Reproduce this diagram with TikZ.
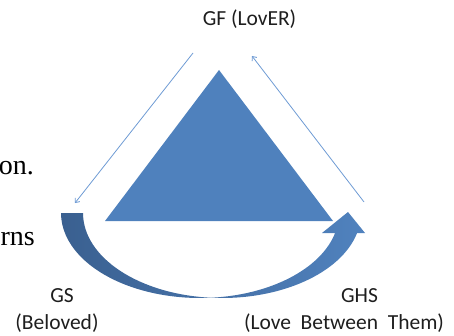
\documentclass[tikz,border=0pt]{standalone}
\usepackage{fontspec}
\setmainfont{Carlito}
\newfontfamily\bodyserif{Liberation Serif}
\usetikzlibrary{arrows.meta}
\definecolor{triblue}{RGB}{79,129,189}
\definecolor{arrowdark}{RGB}{58,96,144}
\definecolor{arrowlight}{RGB}{80,130,190}
\definecolor{thinblue}{RGB}{110,155,212}
\definecolor{txt}{RGB}{30,30,30}
\tikzset{
  lbl/.style={text=txt, font=\fontsize{21.5}{25}\selectfont, inner sep=0pt, anchor=base},
  bodytxt/.style={text=black, font=\bodyserif\fontsize{28}{32}\selectfont, inner sep=0pt, anchor=base east},
  thinarrow/.style={draw=thinblue, line width=0.8pt, -{Straight Barb[length=3.5pt,width=6pt]}},
}
\begin{document}
\begin{tikzpicture}[x=1pt,y=1pt]
\useasboundingbox (0,0) rectangle (454,335);
% cut-off body text at the left
\node[bodytxt] (t1) at (34,161) {on.};
\node[bodytxt] (t2) at (35,90) {rns};
% central triangle
\fill[triblue] (219,265) -- (105,114) -- (333,114) -- cycle;
% curved up arrow
\path[shade, left color=arrowdark, right color=arrowlight]
  (61,122) arc[start angle=180, end angle=274.54, x radius=139, y radius=85]
  arc[start angle=265.46, end angle=346.39, x radius=139, y radius=85]
  -- (365,102) -- (348,123) -- (322,102) -- (335.1,102)
  arc[start angle=346.39, end angle=274.54, x radius=139, y radius=85]
  arc[start angle=265.46, end angle=180, x radius=139, y radius=85]
  -- cycle;
% labels
\node[lbl] (gf) at (249.5,309) {GF (LovER)};
\node[lbl] (gs) at (62,33) {GS};
\node[lbl] (gsb) at (57,6) {(Beloved)};
\node[lbl] (ghs) at (359.5,33) {GHS};
\node[lbl] (ghsb) at (344,6) {(Love\ \ Between\ \ Them)};
% thin arrows
\coordinate (a1s) at (193,282);
\coordinate (a1e) at (75,132);
\coordinate (a2s) at (364,133);
\coordinate (a2e) at (252,279);
\draw[thinarrow] (a1s) -- (a1e);
\draw[thinarrow] (a2s) -- (a2e);
\end{tikzpicture}
\end{document}
